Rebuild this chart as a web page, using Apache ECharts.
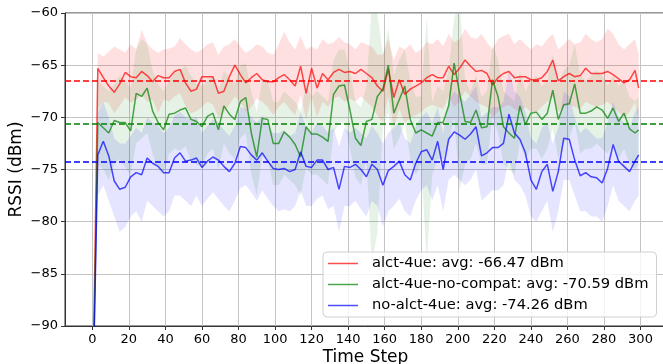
<!DOCTYPE html>
<html>
<head>
<meta charset="utf-8">
<script src="https://cdn.jsdelivr.net/npm/echarts@6/dist/echarts.min.js"></script>
<style>
  html, body { margin: 0; padding: 0; background: #fff; }
  #chart { width: 663px; height: 364px; }
</style>
</head>
<body>
<div id="chart"></div>
<script>
// time steps sampled from the plot
const steps = [0, 3, 6, 9, 12, 15, 18, 21, 24, 27, 30, 33, 36, 39, 42, 45, 48, 51, 54, 57,
  60, 63, 66, 69, 72, 75, 78, 81, 84, 87, 90, 93, 96, 99, 102, 105, 108, 111, 114, 117,
  120, 123, 126, 129, 132, 135, 138, 141, 144, 147, 150, 153, 156, 159, 162, 165, 168, 171, 174, 177,
  180, 183, 186, 189, 192, 195, 198, 201, 204, 207, 210, 213, 216, 219, 222, 225, 228, 231, 234, 237,
  240, 243, 246, 249, 252, 255, 258, 261, 264, 267, 270, 273, 276, 279, 282, 285, 288, 291, 294, 297, 299];

const names = ["alct-4ue: avg: -66.47 dBm", "alct-4ue-no-compat: avg: -70.59 dBm", "no-alct-4ue: avg: -74.26 dBm"];
const avgs = [-66.47, -70.59, -74.26];

const redMean = [-100, -65.3, -66.2, -67.0, -67.6, -66.8, -65.7, -66.1, -66.2, -65.6, -66.0, -66.6, -66.0, -66.2, -66.2, -65.6, -65.4, -66.7, -67.5, -67.3,
  -66.1, -66.1, -66.1, -67.7, -67.5, -66.1, -65.0, -65.9, -66.7, -66.2, -65.8, -66.4, -66.6, -66.6, -66.2, -65.9, -66.4, -67.0, -65.1, -67.7,
  -65.3, -67.2, -65.8, -66.4, -65.7, -65.4, -65.7, -65.6, -65.8, -65.4, -65.8, -66.2, -67.0, -67.5, -65.4, -68.1, -66.4, -67.8, -67.3, -67.0,
  -66.7, -66.2, -65.9, -66.2, -66.2, -65.1, -65.9, -65.3, -64.5, -65.1, -65.6, -65.5, -65.8, -66.9, -66.2, -65.8, -65.6, -66.2, -66.1, -66.1,
  -66.4, -66.4, -66.2, -65.6, -64.5, -66.5, -66.1, -65.8, -66.1, -66.0, -65.3, -65.8, -65.8, -65.8, -65.6, -65.9, -66.3, -66.7, -66.4, -65.5, -67.2];
const redHi = [-100, -63.8, -64.2, -63.7, -63.2, -63.5, -63.8, -63.0, -63.5, -61.6, -62.9, -63.5, -63.8, -63.5, -63.4, -63.2, -62.4, -63.0, -63.5, -63.8,
  -63.5, -63.0, -62.8, -64.0, -63.2, -63.0, -62.5, -63.2, -63.8, -63.5, -63.0, -63.2, -63.8, -64.0, -63.0, -61.8, -62.8, -63.5, -62.2, -63.5,
  -63.2, -63.5, -62.5, -63.0, -62.8, -62.3, -62.8, -63.0, -63.5, -62.8, -63.0, -63.2, -64.0, -64.0, -62.5, -64.5, -63.2, -63.5, -63.0, -63.8,
  -63.5, -62.8, -63.0, -62.5, -63.2, -62.0, -62.8, -62.5, -61.5, -62.3, -62.5, -62.0, -62.8, -63.5, -62.5, -62.2, -62.0, -63.0, -62.5, -63.0,
  -63.5, -63.0, -63.2, -62.5, -62.0, -63.5, -63.0, -62.5, -63.0, -62.8, -62.0, -62.5, -62.8, -62.5, -61.5, -62.0, -63.0, -63.5, -63.0, -62.5, -64.0];
const redLo = [-100, -69.3, -68.5, -68.6, -69.6, -68.9, -68.1, -68.6, -68.3, -67.8, -68.5, -68.3, -69.6, -68.3, -68.5, -68.0, -67.7, -68.9, -69.6, -69.4,
  -69.0, -68.5, -68.8, -70.0, -69.5, -68.8, -68.0, -68.5, -69.5, -69.0, -68.2, -68.5, -69.0, -69.8, -69.0, -68.5, -69.2, -69.8, -67.8, -70.2,
  -68.0, -70.0, -68.5, -69.0, -68.2, -68.0, -68.5, -68.2, -68.5, -68.0, -68.5, -69.0, -69.8, -70.5, -68.0, -71.0, -69.2, -70.5, -70.0, -69.8,
  -69.5, -69.0, -68.8, -69.0, -69.2, -68.0, -69.0, -68.5, -67.5, -68.0, -68.5, -68.8, -69.0, -70.0, -69.5, -69.0, -68.8, -69.2, -69.5, -69.0,
  -69.5, -69.5, -69.0, -68.5, -68.0, -69.5, -69.0, -68.8, -69.0, -69.2, -68.5, -68.8, -69.0, -68.8, -68.5, -69.0, -69.5, -70.0, -69.5, -68.5, -70.5];

const greenMean = [-100, -70.5, -71.0, -71.5, -70.3, -70.5, -70.5, -71.3, -67.7, -68.0, -67.2, -69.4, -70.5, -71.2, -69.7, -69.6, -69.3, -69.1, -70.2, -70.4,
  -70.9, -69.9, -69.6, -71.2, -68.9, -69.7, -70.2, -68.5, -68.1, -71.5, -73.8, -70.1, -70.2, -72.5, -72.5, -71.4, -71.9, -72.6, -73.8, -70.9,
  -71.6, -71.6, -71.9, -72.3, -67.8, -67.0, -66.9, -69.3, -72.0, -72.7, -70.4, -70.2, -68.0, -67.3, -65.0, -69.6, -68.3, -67.0, -70.2, -71.5,
  -71.2, -71.5, -71.8, -70.5, -70.5, -68.9, -64.8, -67.7, -70.4, -70.5, -69.3, -71.0, -70.9, -66.4, -68.0, -70.9, -71.5, -72.0, -68.9, -70.7,
  -69.6, -69.5, -70.2, -69.6, -67.4, -70.2, -68.8, -68.7, -66.8, -69.6, -69.6, -69.4, -69.0, -69.3, -70.1, -69.1, -70.4, -69.6, -71.1, -71.5, -71.2];
const greenHi = [-100, -66.5, -67.0, -67.5, -66.8, -66.0, -66.5, -67.2, -63.5, -62.5, -63.0, -65.5, -66.8, -67.5, -66.5, -65.8, -65.5, -65.0, -66.0, -66.8,
  -67.0, -66.5, -66.0, -67.5, -65.5, -66.2, -66.8, -65.0, -64.8, -67.5, -69.5, -66.5, -66.5, -68.5, -68.5, -67.5, -68.0, -68.5, -69.5, -67.0,
  -68.0, -67.5, -68.0, -68.5, -64.5, -63.5, -63.5, -65.5, -68.5, -69.0, -67.0, -59.0, -60.0, -64.0, -61.5, -66.0, -64.5, -63.5, -66.5, -68.0,
  -68.0, -60.5, -68.5, -67.0, -67.5, -65.5, -60.5, -59.0, -66.5, -67.5, -66.0, -68.0, -67.5, -63.0, -64.5, -67.5, -68.0, -68.5, -65.5, -67.5,
  -66.5, -66.0, -67.0, -66.5, -64.0, -66.8, -65.5, -65.0, -63.0, -66.0, -66.5, -66.0, -65.5, -66.0, -67.0, -66.0, -67.0, -66.5, -68.0, -68.5, -68.0];
const greenLo = [-100, -74.5, -75.0, -76.0, -74.5, -74.0, -74.8, -75.5, -72.5, -72.0, -71.5, -73.5, -75.0, -75.5, -73.5, -73.0, -73.2, -72.8, -74.2, -74.5,
  -74.8, -73.5, -73.0, -75.0, -72.5, -73.5, -74.0, -72.0, -71.5, -75.5, -77.5, -73.8, -74.0, -76.5, -76.5, -75.5, -76.0, -76.5, -77.5, -74.8,
  -75.5, -75.5, -76.0, -76.5, -71.5, -70.5, -70.5, -73.0, -75.8, -76.5, -74.0, -84.0, -81.0, -71.0, -69.5, -73.0, -72.0, -70.5, -74.0, -75.5,
  -74.5, -84.0, -75.5, -74.0, -74.0, -72.5, -70.0, -77.0, -74.5, -74.0, -72.5, -74.5, -74.5, -70.0, -71.5, -74.5, -75.0, -75.5, -72.5, -74.0,
  -73.0, -73.0, -74.0, -73.0, -71.0, -74.0, -72.5, -72.0, -70.5, -73.5, -73.0, -73.0, -72.5, -73.0, -73.5, -72.5, -74.0, -73.0, -74.5, -75.0, -74.5];

const blueMean = [-100, -73.6, -72.3, -73.7, -76.1, -76.9, -76.7, -75.7, -75.3, -75.5, -73.9, -74.4, -74.7, -75.3, -75.3, -73.9, -73.4, -74.2, -74.1, -73.9,
  -74.8, -74.2, -73.8, -74.1, -74.7, -75.2, -74.4, -72.8, -72.9, -73.6, -74.1, -73.4, -74.2, -74.9, -75.0, -74.9, -75.2, -75.0, -73.3, -74.7,
  -74.8, -74.1, -74.1, -75.0, -74.8, -76.9, -74.7, -74.8, -74.5, -75.0, -75.7, -74.5, -75.0, -76.5, -75.1, -74.7, -74.2, -75.5, -76.0, -74.4,
  -73.3, -73.1, -74.1, -72.3, -75.0, -72.1, -71.4, -71.7, -72.1, -71.6, -70.9, -73.7, -73.4, -72.9, -72.9, -72.5, -69.7, -71.5, -72.1, -73.4,
  -76.0, -76.9, -75.2, -74.5, -77.1, -75.2, -72.0, -72.1, -74.1, -75.6, -75.3, -75.7, -75.8, -76.3, -74.9, -72.6, -74.2, -74.7, -75.2, -74.2, -73.6];
const blueHi = [-100, -69.5, -68.5, -70.0, -72.0, -72.5, -72.5, -71.8, -71.0, -71.5, -70.0, -70.5, -70.8, -71.5, -71.0, -69.8, -69.5, -70.0, -70.2, -70.0,
  -71.5, -70.8, -70.2, -70.5, -71.2, -71.8, -70.8, -69.0, -69.2, -70.0, -70.5, -69.8, -70.8, -71.5, -71.5, -71.2, -71.8, -71.5, -69.5, -71.0,
  -71.5, -70.5, -70.8, -71.5, -71.0, -72.8, -71.0, -71.5, -71.0, -71.5, -72.0, -70.8, -71.5, -72.5, -71.5, -71.0, -70.5, -72.0, -72.5, -70.8,
  -70.0, -69.5, -70.5, -69.0, -71.5, -68.5, -67.5, -68.0, -68.5, -67.8, -67.0, -70.0, -69.5, -69.0, -69.0, -68.5, -65.5, -67.5, -68.0, -69.5,
  -72.0, -72.5, -71.0, -70.5, -72.5, -71.0, -67.5, -68.0, -70.0, -71.5, -71.0, -71.5, -72.0, -72.0, -70.5, -68.5, -70.0, -70.5, -71.0, -69.5, -69.0];
const blueLo = [-100, -77.5, -76.5, -78.0, -79.5, -81.0, -80.5, -79.5, -79.0, -80.0, -78.0, -78.5, -79.0, -79.5, -79.0, -77.5, -77.5, -78.0, -78.5, -77.5,
  -78.5, -77.8, -77.2, -77.8, -78.5, -79.0, -78.0, -76.8, -76.5, -77.2, -78.0, -77.0, -77.8, -78.5, -79.0, -78.8, -79.0, -78.5, -77.0, -78.5,
  -78.5, -77.8, -77.5, -78.8, -78.5, -81.0, -78.5, -78.5, -78.0, -78.8, -79.5, -78.0, -78.5, -80.5, -79.0, -78.5, -77.8, -79.0, -79.5, -78.0,
  -77.0, -76.5, -78.0, -76.5, -79.0, -76.0, -75.5, -76.0, -76.5, -76.0, -75.0, -78.0, -77.5, -77.0, -77.0, -76.5, -74.0, -76.0, -76.5, -77.5,
  -79.5, -80.0, -79.0, -78.0, -81.0, -79.0, -76.0, -76.0, -77.5, -79.0, -79.0, -79.5, -79.5, -80.0, -78.5, -76.5, -78.0, -78.5, -79.0, -78.0, -77.5];

const font = "DejaVu Sans";
const minus = (v) => String(v).replace("-", "\u2212");
const lineIcon = "path://M0,0H30V1.5H0Z";

// shaded spread drawn as one polygon through the axis scales
function band(lo, hi, color) {
  return {
    type: "custom",
    clip: true,
    silent: true,
    data: steps.map((s, i) => [s, lo[i], hi[i]]),
    encode: { x: 0, y: [1, 2] },
    renderItem: (params, api) => {
      if (params.dataIndex !== 0) return null;
      const top = steps.map((s, i) => api.coord([s, hi[i]]));
      const bottom = steps.map((s, i) => api.coord([s, lo[i]])).reverse();
      return { type: "polygon", shape: { points: top.concat(bottom) }, style: { fill: color } };
    },
  };
}

function line(name, values, color, avg, dash) {
  return {
    type: "line",
    name,
    data: steps.map((s, i) => [s, values[i]]),
    symbol: "none",
    clip: true,
    lineStyle: { width: 1.5, color },
    itemStyle: { color },
    markLine: {
      silent: true,
      symbol: "none",
      label: { show: false },
      lineStyle: { type: [6, 3], width: 1.5, color: dash },
      data: [{ yAxis: avg }],
    },
  };
}

const chart = echarts.init(document.getElementById("chart"), null, { renderer: "canvas" });
chart.setOption({
  animation: false,
  textStyle: { fontFamily: font },
  grid: {
    left: 65, right: -3, top: 13, bottom: 38,
    containLabel: false, outerBoundsMode: "none",
    show: true, borderColor: "#333", borderWidth: 1,
  },
  legend: {
    orient: "vertical",
    left: 323,
    top: 252,
    data: names.map((n) => ({ name: n, icon: lineIcon })),
    itemWidth: 30,
    itemHeight: 14,
    itemGap: 6,
    padding: [4, 8, 4, 5],
    borderColor: "#d0d0d0",
    borderWidth: 1,
    borderRadius: 4,
    backgroundColor: "rgba(255,255,255,0.8)",
    textStyle: { fontFamily: font, fontSize: 14.7, color: "#000", padding: [0, 0, 0, 9] },
  },
  xAxis: {
    type: "value",
    min: -14.95,
    max: 313.95,
    splitNumber: 16,
    name: "Time Step",
    nameLocation: "middle",
    nameGap: 23,
    nameMoveOverlap: false,
    nameTextStyle: { fontFamily: font, fontSize: 17, color: "#000" },
    axisLine: { onZero: false, lineStyle: { color: "#333" } },
    axisTick: { length: 4, lineStyle: { color: "#333" } },
    axisLabel: { fontFamily: font, fontSize: 13, color: "#000", margin: 7, showMinLabel: false, showMaxLabel: false },
    splitLine: { show: true, lineStyle: { color: "#c4c4c4" } },
  },
  yAxis: {
    type: "value",
    min: -90,
    max: -60,
    interval: 5,
    name: "RSSI (dBm)",
    nameLocation: "middle",
    nameGap: 40,
    nameMoveOverlap: false,
    nameTextStyle: { fontFamily: font, fontSize: 17, color: "#000" },
    axisLine: { show: true, onZero: false, lineStyle: { color: "#333" } },
    axisTick: { show: true, length: 4, lineStyle: { color: "#333" } },
    axisLabel: { fontFamily: font, fontSize: 13, color: "#000", margin: 7, formatter: minus },
    splitLine: { show: true, lineStyle: { color: "#c4c4c4" } },
  },
  series: [
    band(redLo, redHi, "rgba(255,0,0,0.12)"),
    line(names[0], redMean, "rgba(255,0,0,0.7)", avgs[0], "#ff0000"),
    band(greenLo, greenHi, "rgba(0,128,0,0.1)"),
    line(names[1], greenMean, "rgba(0,128,0,0.7)", avgs[1], "#008000"),
    band(blueLo, blueHi, "rgba(0,0,255,0.1)"),
    line(names[2], blueMean, "rgba(0,0,255,0.7)", avgs[2], "#0000ff"),
  ],
});
</script>
</body>
</html>
